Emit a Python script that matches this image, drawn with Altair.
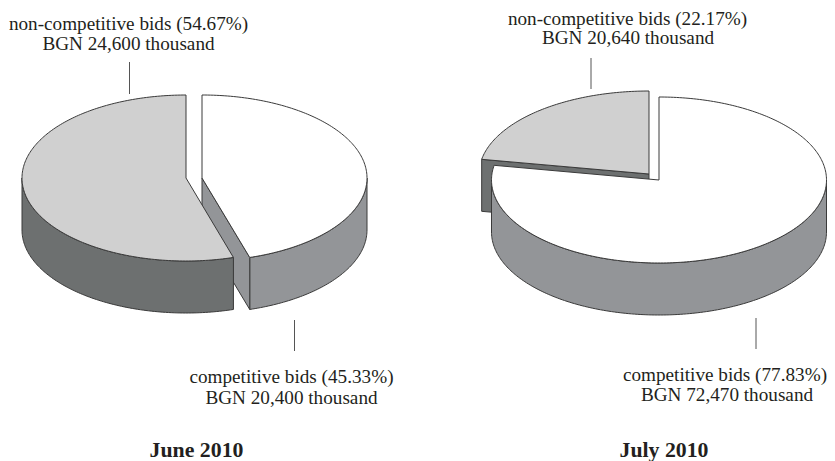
import numpy as np
import altair as alt

months = ["June 2010", "July 2010"]
noncompetitive_share = [54.67, 22.17]
competitive_share = [45.33, 77.83]
noncompetitive_bgn = ["24,600", "20,640"]
competitive_bgn = ["20,400", "72,470"]

LIGHT, WHITE, MID, DARK, EDGE = "#d0d0d0", "#ffffff", "#939598", "#6d7070", "#3a3a3a"
OFF = 8          # page margin
RY, DEPTH = 83, 52
INK = "#231f20"


def pt(c, rx, a):
    """Point on the ellipse at angle a (degrees clockwise from the top)."""
    r = np.radians(a)
    return [c[0] + rx * np.sin(r) - OFF, c[1] - RY * np.cos(r) - OFF]


def arc(c, rx, a0, a1, dy=0):
    n = max(int(abs(a1 - a0)) + 2, 2)
    return [[p[0], p[1] + dy] for p in (pt(c, rx, a) for a in np.linspace(a0, a1, n))]


def poly(coords, fill):
    return {
        "type": "Feature",
        "properties": {"fill": fill},
        "geometry": {"type": "Polygon", "coordinates": [coords + [coords[0]]]},
    }


def top(c, rx, a0, a1, fill):
    apex = [c[0] - OFF, c[1] - OFF]
    return poly([apex] + arc(c, rx, a0, a1), fill)


def wall(c, rx, a0, a1, fill):
    a0, a1 = max(a0, 90), min(a1, 270)
    return poly(arc(c, rx, a0, a1) + arc(c, rx, a1, a0, DEPTH), fill)


def cut(c, rx, a, fill):
    apex = [c[0] - OFF, c[1] - OFF]
    e = pt(c, rx, a)
    return poly([apex, e, [e[0], e[1] + DEPTH], [apex[0], apex[1] + DEPTH]], fill)


# June: competitive slice runs clockwise from the top, shifted right
a = competitive_share[0] * 3.6
c_nc, c_c = (186, 178), (202, 178)
features = [
    wall(c_c, 165, 0, a, MID), cut(c_c, 165, a, MID), top(c_c, 165, 0, a, WHITE),
    wall(c_nc, 164, a, 360, DARK), top(c_nc, 164, a, 360, LIGHT),
]
# July: non-competitive slice lifted to the upper left
b = competitive_share[1] * 3.6
c_nc, c_c = (649, 174), (659, 180)
features += [
    cut(c_nc, 170, b, DARK), top(c_nc, 170, b, 360, LIGHT),
    wall(c_c, 167.5, 0, b, MID), top(c_c, 167.5, 0, b, WHITE),
]

shapes = alt.Chart(
    alt.InlineData(values=features)
).mark_geoshape(strokeWidth=1, stroke=EDGE, strokeJoin="miter").encode(
    fill=alt.Fill("properties.fill:N", scale=None)
).project(type="identity", scale=1, translate=[0, 0])


def text(s, x, y, size=19.2, bold=False):
    return alt.Chart(alt.Data(values=[{}])).mark_text(
        font="Liberation Serif", fontSize=size, color=INK, align="center",
        baseline="alphabetic", fontWeight="bold" if bold else "normal",
    ).encode(x=alt.value(x - OFF), y=alt.value(y - OFF), text=alt.value(s))


def tick(x, y0, y1):
    return alt.Chart(alt.Data(values=[{}])).mark_rule(color="#555555", strokeWidth=1).encode(
        x=alt.value(x - OFF), y=alt.value(y0 - OFF), y2=alt.value(y1 - OFF)
    )


layers = [
    shapes,
    tick(129.5, 62, 94), tick(294.5, 320, 351), tick(591, 58, 89), tick(756, 318, 349),
    text(f"non-competitive bids ({noncompetitive_share[0]}%)", 128.5, 30),
    text(f"BGN {noncompetitive_bgn[0]} thousand", 128.5, 49.5),
    text(f"competitive bids ({competitive_share[0]}%)", 291.5, 383),
    text(f"BGN {competitive_bgn[0]} thousand", 291.5, 404),
    text(months[0], 196.5, 457, 21.8, True),
    text(f"non-competitive bids ({noncompetitive_share[1]}%)", 627.5, 24.5),
    text(f"BGN {noncompetitive_bgn[1]} thousand", 628, 43.5),
    text(f"competitive bids ({competitive_share[1]}%)", 725, 380.5),
    text(f"BGN {competitive_bgn[1]} thousand", 727, 401),
    text(months[1], 664, 457, 21.8, True),
]

chart = alt.layer(*layers).properties(
    width=819, height=453, padding=0,
    autosize=alt.AutoSizeParams(type="none"),
).configure_view(stroke=None)

chart.save("out.html", embed_options={"renderer": "svg", "actions": False})
